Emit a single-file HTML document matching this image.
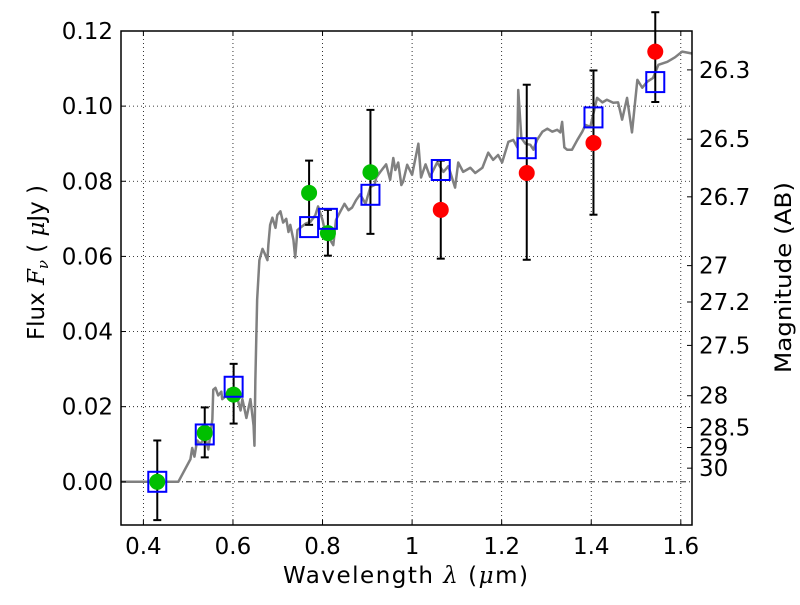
<!DOCTYPE html>
<html><head><meta charset="utf-8"><style>
html,body{margin:0;padding:0;background:#fff;}
svg text{font-family:"DejaVu Sans","Liberation Sans",sans-serif;}
</style></head><body>
<svg id="chart" width="800" height="600" viewBox="0 0 800 600" xmlns="http://www.w3.org/2000/svg">
<rect width="800" height="600" fill="#fff"/>
<g id="grid"></g>
<g id="spec"></g>
<g id="marks"></g>
<g id="axes"></g>
</svg>
<script>
const specW=[0.35,0.478,0.505,0.509,0.514,0.52,0.527,0.538,0.545,0.554,0.556,0.561,0.567,0.574,0.576,0.583,0.59,0.599,0.608,0.617,0.621,0.63,0.639,0.646,0.648,0.65,0.654,0.659,0.666,0.67,0.677,0.679,0.683,0.688,0.695,0.699,0.706,0.712,0.719,0.724,0.728,0.735,0.739,0.744,0.75,0.762,0.773,0.784,0.79,0.8,0.808,0.817,0.824,0.83,0.84,0.849,0.858,0.866,0.875,0.884,0.896,0.907,0.916,0.92,0.929,0.942,0.951,0.958,0.9625,0.969,0.976,0.98,0.989,1.0,1.014,1.02,1.03,1.04,1.056,1.07,1.081,1.096,1.103,1.114,1.13,1.141,1.157,1.17,1.181,1.192,1.201,1.215,1.226,1.235,1.237,1.244,1.253,1.264,1.271,1.279,1.291,1.302,1.313,1.324,1.331,1.335,1.34,1.346,1.357,1.369,1.38,1.387,1.398,1.413,1.425,1.435,1.449,1.46,1.469,1.48,1.491,1.503,1.514,1.525,1.538,1.55,1.57,1.587,1.603,1.625];
const specF=[0,0,0.006,0.009,0.0067,0.011,0.01,0.012,0.0086,0.0166,0.0245,0.025,0.023,0.024,0.022,0.0227,0.0246,0.0214,0.023,0.019,0.022,0.017,0.022,0.015,0.0096,0.027,0.0485,0.059,0.062,0.061,0.059,0.063,0.0684,0.0703,0.0676,0.071,0.072,0.069,0.070,0.0665,0.0684,0.0644,0.0597,0.067,0.0676,0.0687,0.0692,0.071,0.0733,0.0697,0.0653,0.0644,0.063,0.0697,0.072,0.074,0.0723,0.073,0.075,0.0765,0.074,0.0785,0.079,0.081,0.0825,0.0845,0.0804,0.0862,0.083,0.085,0.079,0.0799,0.0844,0.0817,0.090,0.081,0.0845,0.0812,0.085,0.0825,0.084,0.0783,0.085,0.0825,0.0836,0.0822,0.0836,0.0876,0.0857,0.087,0.085,0.0905,0.091,0.089,0.1043,0.0915,0.090,0.0897,0.0884,0.091,0.0932,0.094,0.0932,0.0937,0.093,0.0958,0.089,0.0884,0.0884,0.091,0.0932,0.095,0.0945,0.1022,0.101,0.1017,0.1009,0.101,0.0964,0.1022,0.093,0.107,0.1049,0.1065,0.1075,0.111,0.1118,0.113,0.1145,0.114];
const obsW=[0.431,0.537,0.6015,0.77,0.812,0.907,1.064,1.256,1.405,1.543];
const obsF=[0,0.013,0.0232,0.0769,0.0662,0.0824,0.0724,0.0822,0.0902,0.1145];
const errHi=[0.011,0.0198,0.0314,0.0855,0.0724,0.099,0.0855,0.1057,0.1095,0.125];
const errLo=[-0.0102,0.0065,0.0155,0.0684,0.0602,0.066,0.0594,0.0591,0.0711,0.1011];
const obsColor=['#00bf00','#00bf00','#00bf00','#00bf00','#00bf00','#00bf00','#ff0000','#ff0000','#ff0000','#ff0000'];
const modelF=[0,0.0126,0.0253,0.0678,0.070,0.0764,0.083,0.0888,0.097,0.1064];
const xTicks=[0.4,0.6,0.8,1.0,1.2,1.4,1.6];
const xTickLabels=['0.4','0.6','0.8','1','1.2','1.4','1.6'];
const yTicks=[0,0.02,0.04,0.06,0.08,0.10,0.12];
const yTickLabels=['0.00','0.02','0.04','0.06','0.08','0.10','0.12'];
const magTicks=[26.3,26.5,26.7,27,27.2,27.5,28,28.5,29,30];

const L=121,R=692,T=31,B=525,x0=0.35,x1=1.625,y0=-0.0115,y1=0.12;
const X=w=>L+(w-x0)/(x1-x0)*(R-L);
const Y=f=>B-(f-y0)/(y1-y0)*(B-T);
const NS='http://www.w3.org/2000/svg';
const FS=23;
function mk(tag,parent,attrs){const e=document.createElementNS(NS,tag);for(const k in attrs)e.setAttribute(k,attrs[k]);parent.appendChild(e);return e;}
const grid=document.getElementById('grid'),spec=document.getElementById('spec'),marks=document.getElementById('marks'),axes=document.getElementById('axes');

xTicks.forEach((t,i)=>{
  const g=mk('line',grid,{x1:X(t),x2:X(t),y1:T,y2:B,stroke:'#000','stroke-width':0.8,'stroke-dasharray':'1,3'});
  
  
  mk('line',axes,{x1:X(t),x2:X(t),y1:B,y2:B-5,stroke:'#000'});
  mk('line',axes,{x1:X(t),x2:X(t),y1:T,y2:T+5,stroke:'#000'});
  const tx=mk('text',axes,{x:X(t),y:B+29,'font-size':FS,'text-anchor':'middle'});
  tx.textContent=xTickLabels[i];
  
  
});
yTicks.forEach((t,i)=>{
  const g=mk('line',grid,{x1:L,x2:R,y1:Y(t),y2:Y(t),stroke:'#000','stroke-width':0.8,'stroke-dasharray':t===0?'6,3,1,3':'1,3'});
  
  
  mk('line',axes,{x1:L,x2:L+5,y1:Y(t),y2:Y(t),stroke:'#000'});
  const tx=mk('text',axes,{x:L-8,y:Y(t)+8,'font-size':FS,'text-anchor':'end'});
  tx.textContent=yTickLabels[i];
  
  
});
magTicks.forEach(m=>{
  const f=Math.pow(10,(23.9-m)/2.5);
  mk('line',axes,{x1:R,x2:R-5,y1:Y(f),y2:Y(f),stroke:'#000'});
  const tx=mk('text',axes,{x:R+7,y:Y(f)+8,'font-size':FS});
  tx.textContent=String(m);
  
  
});

const p=mk('polyline',spec,{points:specW.map((w,i)=>X(w)+','+Y(specF[i])).join(' '),fill:'none',stroke:'#808080','stroke-width':2.5,'stroke-linejoin':'round'});



obsW.forEach((w,i)=>{
  const x=X(w);
  const eb=mk('g',marks,{});
  
  
  mk('line',eb,{x1:x,x2:x,y1:Y(errHi[i]),y2:Y(errLo[i]),stroke:'#000','stroke-width':2});
  mk('line',eb,{x1:x-4,x2:x+4,y1:Y(errHi[i]),y2:Y(errHi[i]),stroke:'#000','stroke-width':2});
  mk('line',eb,{x1:x-4,x2:x+4,y1:Y(errLo[i]),y2:Y(errLo[i]),stroke:'#000','stroke-width':2});
  const c=mk('circle',marks,{cx:x,cy:Y(obsF[i]),r:8,fill:obsColor[i]});
  
  
  const s=mk('rect',marks,{x:x-9,y:Y(modelF[i])-10,width:18,height:20,fill:'none',stroke:'#0000ff','stroke-width':2});
  
  
});

const fr=mk('rect',axes,{x:L,y:T,width:R-L,height:B-T,fill:'none',stroke:'#000','stroke-width':1.5});


const xl=mk('text',axes,{x:283,y:583,'font-size':23,textLength:245,lengthAdjust:'spacing'});
xl.innerHTML='Wavelength  <tspan font-style="italic" font-family="DejaVu Serif,serif">λ</tspan> (<tspan font-style="italic" font-family="DejaVu Serif,serif">μ</tspan>m)';


const yl=mk('text',axes,{x:0,y:0,'font-size':23,transform:'translate(44,340) rotate(-90)',textLength:155,lengthAdjust:'spacing'});
yl.innerHTML='Flux  <tspan font-style="italic" font-family="DejaVu Serif,serif">F</tspan><tspan font-style="italic" font-family="DejaVu Serif,serif" font-size="15" dy="4">ν</tspan><tspan dy="-4">  ( </tspan><tspan font-style="italic" font-family="DejaVu Serif,serif">μ</tspan>Jy )';


const rl=mk('text',axes,{x:0,y:0,'font-size':22,transform:'translate(791,373) rotate(-90)',textLength:191,lengthAdjust:'spacingAndGlyphs'});
rl.textContent='Magnitude (AB)';


</script>
</body></html>
